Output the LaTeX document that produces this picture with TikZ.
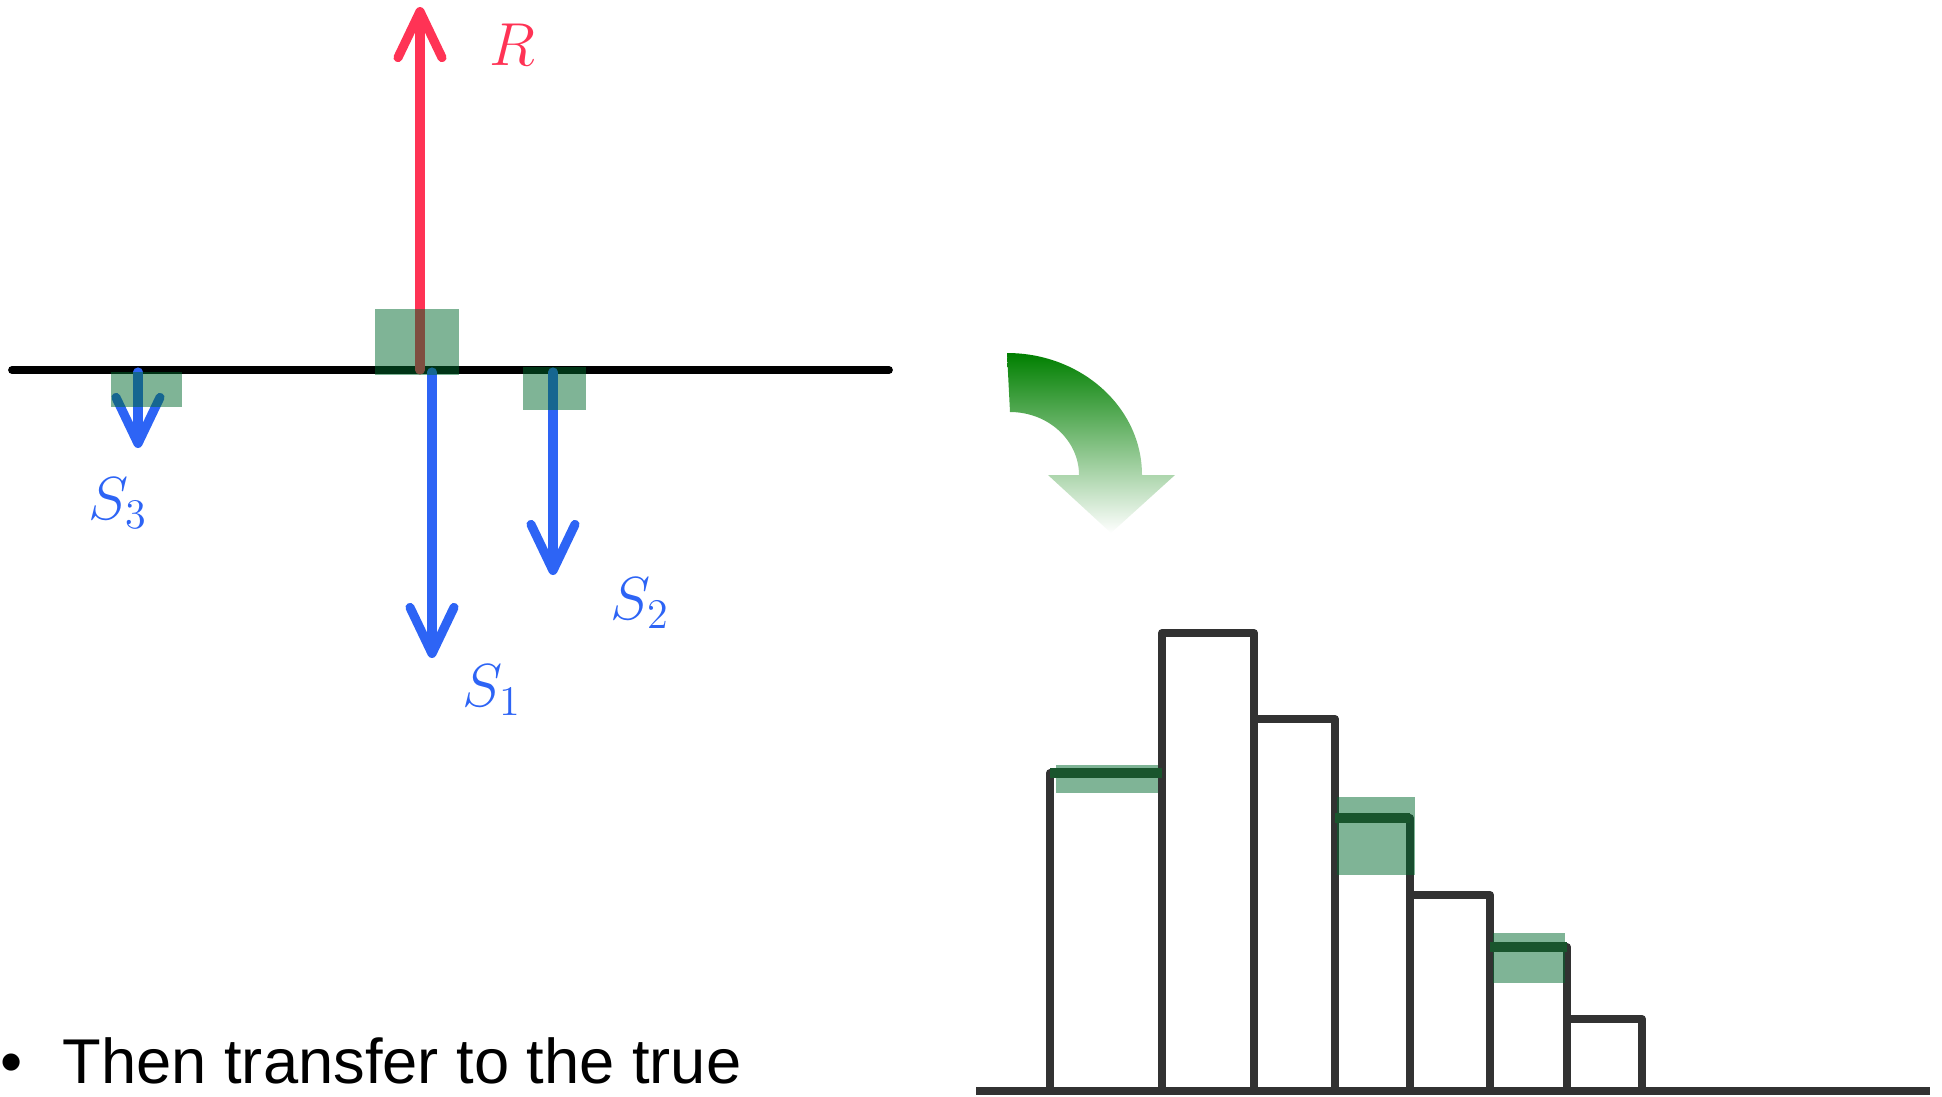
\documentclass[tikz,border=0pt]{standalone}
\usepackage{fontspec}
\newfontfamily\notefont{Liberation Sans}
\usetikzlibrary{arrows.meta,positioning}

\definecolor{forcered}{RGB}{255,51,85}
\definecolor{forceblue}{RGB}{45,100,245}
\definecolor{patchgreen}{RGB}{0,105,45}
\definecolor{stepgreen}{RGB}{25,85,45}
\definecolor{bargray}{RGB}{50,50,50}

\begin{document}
\begin{tikzpicture}[
  x=1cm, y=1cm,
  >={Straight Barb[length=4.6mm,width=4.4mm,round]},
  force/.style={->, line width=2.6pt, line cap=round},
  patch/.style={fill=patchgreen, fill opacity=0.5, draw=none},
  bar/.style={draw=bargray, line width=2.3pt, line join=round},
  stepline/.style={draw=stepgreen, line width=2.6pt},
  lab/.style={font=\fontsize{17.5}{20}\selectfont, inner sep=0pt},
  note/.style={font=\notefont\fontsize{18}{20}\selectfont, inner sep=0pt, anchor=base west},
]
  \useasboundingbox (0,0) rectangle (19.42,-10.96);

  % beam
  \coordinate (bl) at (0.12,-3.70);
  \coordinate (br) at (8.89,-3.70);
  \draw[line width=2.2pt, line cap=round] (bl) -- (br);

  % forces on the beam
  \coordinate (rfoot) at (4.20,-3.70);
  \coordinate (rtip) at (4.20,-0.07);
  \coordinate (s1foot) at (4.32,-3.72);
  \coordinate (s1tip) at (4.32,-6.58);
  \coordinate (s2foot) at (5.53,-3.72);
  \coordinate (s2tip) at (5.53,-5.75);
  \coordinate (s3foot) at (1.38,-3.72);
  \coordinate (s3tip) at (1.38,-4.48);
  \draw[force, forcered] (rfoot) -- (rtip);
  \draw[force, forceblue] (s1foot) -- (s1tip);
  \draw[force, forceblue] (s2foot) -- (s2tip);
  \draw[force, forceblue] (s3foot) -- (s3tip);

  \node[lab, text=forcered] (rlab) at (5.12,-0.45) {$R$};
  \node[lab, text=forceblue] (s1lab) at (4.92,-6.90) {$S_1$};
  \node[lab, text=forceblue] (s2lab) at (6.40,-6.03) {$S_2$};
  \node[lab, text=forceblue] (s3lab) at (1.18,-5.03) {$S_3$};

  % patches where the forces act
  \fill[patch] (3.75,-3.09) rectangle (4.59,-3.75);
  \fill[patch] (5.23,-3.67) rectangle (5.86,-4.10);
  \fill[patch] (1.11,-3.72) rectangle (1.82,-4.07);

  % curved arrow
  \shade[top color=green!50!black, bottom color=white]
    (10.07,-3.53) arc[start angle=90, end angle=0, x radius=1.35, y radius=1.22]
    -- (11.75,-4.75) -- (11.11,-5.33) -- (10.48,-4.75) -- (10.79,-4.75)
    arc[start angle=0, end angle=90, x radius=0.69, y radius=0.63] -- cycle;

  % histogram
  \draw[bar] (10.50,-10.91) rectangle (11.62,-7.73);
  \draw[bar] (11.62,-10.91) rectangle (12.54,-6.33);
  \draw[bar] (12.54,-10.91) rectangle (13.35,-7.19);
  \draw[bar] (13.35,-10.91) rectangle (14.10,-8.18);
  \draw[bar] (14.10,-10.91) rectangle (14.90,-8.95);
  \draw[bar] (14.90,-10.91) rectangle (15.67,-9.47);
  \draw[bar] (15.67,-10.91) rectangle (16.42,-10.19);
  \draw[bargray, line width=2.3pt] (9.76,-10.91) -- (19.30,-10.91);

  \fill[patch] (10.56,-7.65) rectangle (11.58,-7.93);
  \fill[patch] (13.37,-7.97) rectangle (14.15,-8.75);
  \fill[patch] (14.93,-9.33) rectangle (15.65,-9.83);
  \draw[stepline] (10.50,-7.73) -- (11.62,-7.73);
  \draw[stepline] (13.35,-8.18) -- (14.10,-8.18);
  \draw[stepline] (14.90,-9.47) -- (15.67,-9.47);

  % bullet line
  \node[note] (dot) at (0,-10.83) {•};
  \node[note] (line) at (0.62,-10.83) {Then transfer to the true};
\end{tikzpicture}
\end{document}
